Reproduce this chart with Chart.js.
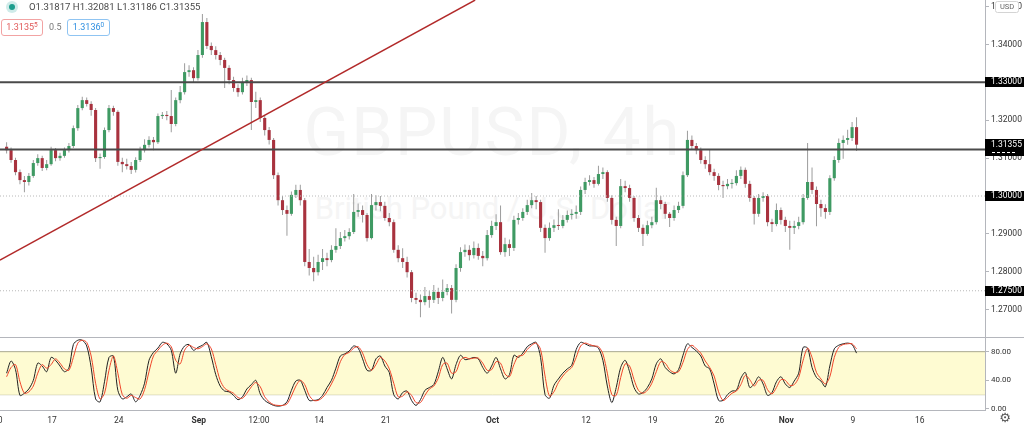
<!DOCTYPE html>
<html>
<head>
<meta charset="utf-8">
<script src="https://cdn.jsdelivr.net/npm/chart.js@4.4.0/dist/chart.umd.min.js"></script>
<style>
  html, body { margin: 0; padding: 0; background: #fff; }
  #wrap { position: relative; width: 1024px; height: 426px; overflow: hidden; font-family: Roboto, "Noto Sans", sans-serif; }
  #priceCanvas { position: absolute; left: 0; top: 0; }
  #stochCanvas { position: absolute; left: 0; top: 337px; }
  .wm { position: absolute; left: 0; width: 985px; text-align: center; color: #f5f5f5; white-space: nowrap; line-height: 1; }
  #wm1 { top: 99px; font-size: 67px; letter-spacing: 2px; }
  #wm2 { top: 193px; font-size: 31px; }
  .lg { position: absolute; white-space: nowrap; }
  #dot { left: 6px; top: 1px; width: 12px; height: 12px; border-radius: 50%; background: rgba(38,166,154,0.22); }
  #dot::after { content: ""; position: absolute; left: 3px; top: 3px; width: 6px; height: 6px; border-radius: 50%; background: #1e9e8e; }
  #ohlc { left: 29px; top: 1px; font-size: 9.6px; line-height: 12px; color: #4a4a4a; }
  .box { top: 19px; height: 15px; line-height: 15px; font-size: 9px; border-radius: 3px; text-align: center; background: #fff; }
  .box sup { font-size: 6.5px; vertical-align: 3px; line-height: 0; }
  #bid { left: 1px; width: 40px; border: 1px solid #f2a3a3; color: #e05a5a; }
  #spread { left: 49px; top: 21px; font-size: 9px; line-height: 12px; color: #777; }
  #ask { left: 67px; width: 41px; border: 1px solid #8fc4f2; color: #2f8fe0; }
</style>
</head>
<body>
<div id="wrap">
  <div class="wm" id="wm1">GBPUSD, 4h</div>
  <div class="wm" id="wm2">British Pound / U.S. Dollar</div>
  <canvas id="priceCanvas" width="1024" height="337"></canvas>
  <canvas id="stochCanvas" width="1024" height="89"></canvas>
  <div class="lg" id="dot"></div>
  <div class="lg" id="ohlc">O1.31817 H1.32081 L1.31186 C1.31355</div>
  <div class="lg box" id="bid">1.3135<sup>5</sup></div>
  <div class="lg" id="spread">0.5</div>
  <div class="lg box" id="ask">1.3136<sup>0</sup></div>
</div>
<script>
// 8-hour candles; open of each bar = previous close
const FIRST_OPEN = 1.3130;
const closes = [
  1.3121, 1.3095, 1.3063, 1.3042, 1.3037, 1.3053, 1.3087, 1.3100, 1.3074, 1.3084,
  1.3121, 1.3100, 1.3106, 1.3121, 1.3132, 1.3179, 1.3232, 1.3253, 1.3243, 1.3227,
  1.3100, 1.3103, 1.3174, 1.3232, 1.3222, 1.3090, 1.3084, 1.3079, 1.3069, 1.3095,
  1.3121, 1.3135, 1.3148, 1.3142, 1.3211, 1.3214, 1.3211, 1.3190, 1.3253, 1.3274,
  1.3327, 1.3332, 1.3311, 1.3372, 1.3459, 1.3396, 1.3385, 1.3372, 1.3359, 1.3338,
  1.3306, 1.3285, 1.3274, 1.3301, 1.3306, 1.3248, 1.3253, 1.3206, 1.3174, 1.3148,
  1.3055, 1.2989, 1.2963, 1.2953, 1.3003, 1.3016, 1.2989, 1.2826, 1.2810, 1.2799,
  1.2826, 1.2836, 1.2831, 1.2858, 1.2868, 1.2889, 1.2894, 1.2905, 1.2958, 1.2963,
  1.2950, 1.2889, 1.2976, 1.2984, 1.2974, 1.2942, 1.2931, 1.2858, 1.2836, 1.2826,
  1.2799, 1.2731, 1.2726, 1.2720, 1.2736, 1.2726, 1.2747, 1.2731, 1.2747, 1.2757,
  1.2726, 1.2810, 1.2852, 1.2858, 1.2844, 1.2863, 1.2842, 1.2836, 1.2897, 1.2921,
  1.2931, 1.2852, 1.2873, 1.2863, 1.2937, 1.2942, 1.2958, 1.2976, 1.2989, 1.2984,
  1.2916, 1.2889, 1.2916, 1.2923, 1.2921, 1.2937, 1.2950, 1.2953, 1.2958, 1.3016,
  1.3037, 1.3042, 1.3032, 1.3058, 1.3063, 1.2995, 1.2937, 1.2921, 1.3026, 1.3021,
  1.2995, 1.2942, 1.2916, 1.2900, 1.2923, 1.2931, 1.2989, 1.2979, 1.2953, 1.2942,
  1.2963, 1.2974, 1.3055, 1.3148, 1.3132, 1.3121, 1.3095, 1.3084, 1.3063, 1.3053,
  1.3029, 1.3026, 1.3032, 1.3034, 1.3053, 1.3069, 1.3032, 1.2995, 1.2953, 1.2995,
  1.3000, 1.2931, 1.2926, 1.2963, 1.2937, 1.2921, 1.2916, 1.2921, 1.2931, 1.2995,
  1.3037, 1.3016, 1.2979, 1.2968, 1.2958, 1.3047, 1.3095, 1.3140, 1.3148, 1.3153,
  1.31817, 1.31355
];
const highs = [
  1.3142, 1.3128, 1.3101, 1.3070, 1.3053, 1.3061, 1.3095, 1.3110, 1.3106, 1.3095,
  1.3130, 1.3127, 1.3114, 1.3128, 1.3140, 1.3186, 1.3240, 1.3262, 1.3260, 1.3250,
  1.3232, 1.3112, 1.3181, 1.3240, 1.3238, 1.3226, 1.3101, 1.3098, 1.3090, 1.3102,
  1.3130, 1.3150, 1.3158, 1.3156, 1.3218, 1.3222, 1.3224, 1.3280, 1.3260, 1.3290,
  1.3350, 1.3345, 1.3340, 1.3385, 1.3480, 1.3470, 1.3405, 1.3395, 1.3380, 1.3365,
  1.3345, 1.3315, 1.3295, 1.3312, 1.3318, 1.3312, 1.3275, 1.3260, 1.3212, 1.3182,
  1.3153, 1.3062, 1.3000, 1.2975, 1.3012, 1.3030, 1.3030, 1.2995, 1.2860, 1.2840,
  1.2845, 1.2860, 1.2850, 1.2870, 1.2915, 1.2905, 1.2910, 1.2915, 1.3005, 1.2980,
  1.2975, 1.2955, 1.3005, 1.3002, 1.3000, 1.2985, 1.2955, 1.2938, 1.2870, 1.2862,
  1.2840, 1.2805, 1.2745, 1.2740, 1.2760, 1.2750, 1.2765, 1.2758, 1.2780, 1.2768,
  1.2765, 1.2820, 1.2865, 1.2872, 1.2870, 1.2880, 1.2875, 1.2855, 1.2910, 1.2935,
  1.2952, 1.2975, 1.2890, 1.2885, 1.2948, 1.2955, 1.2968, 1.2990, 1.3008, 1.3000,
  1.2990, 1.2925, 1.2930, 1.2938, 1.2965, 1.2950, 1.2962, 1.2965, 1.2975, 1.3025,
  1.3048, 1.3055, 1.3050, 1.3080, 1.3075, 1.3068, 1.3002, 1.2945, 1.3045, 1.3040,
  1.3030, 1.3000, 1.2950, 1.2925, 1.2935, 1.2945, 1.3022, 1.3000, 1.2985, 1.2958,
  1.2975, 1.2985, 1.3065, 1.3172, 1.3160, 1.3140, 1.3128, 1.3105, 1.3122, 1.3072,
  1.3060, 1.3040, 1.3045, 1.3045, 1.3068, 1.3078, 1.3075, 1.3040, 1.3000, 1.3005,
  1.3010, 1.3005, 1.2940, 1.2980, 1.2970, 1.2945, 1.2935, 1.2935, 1.2945, 1.3005,
  1.3140, 1.3075, 1.3025, 1.2990, 1.2978, 1.3055, 1.3105, 1.3152, 1.3160, 1.3175,
  1.3195, 1.32081
];
const lows = [
  1.3112, 1.3088, 1.3055, 1.3031, 1.3010, 1.3028, 1.3048, 1.3080, 1.3066, 1.3068,
  1.3080, 1.3092, 1.3093, 1.3101, 1.3115, 1.3127, 1.3172, 1.3226, 1.3236, 1.3212,
  1.3090, 1.3072, 1.3098, 1.3168, 1.3212, 1.3080, 1.3063, 1.3070, 1.3058, 1.3062,
  1.3090, 1.3115, 1.3128, 1.3121, 1.3137, 1.3203, 1.3200, 1.3168, 1.3184, 1.3245,
  1.3268, 1.3315, 1.3298, 1.3305, 1.3365, 1.3388, 1.3372, 1.3360, 1.3345, 1.3285,
  1.3295, 1.3275, 1.3262, 1.3268, 1.3290, 1.3174, 1.3232, 1.3195, 1.3160, 1.3136,
  1.3045, 1.2975, 1.2950, 1.2895, 1.2948, 1.2995, 1.2975, 1.2815, 1.2790, 1.2775,
  1.2790, 1.2805, 1.2815, 1.2825, 1.2850, 1.2860, 1.2880, 1.2885, 1.2900, 1.2945,
  1.2930, 1.2880, 1.2885, 1.2962, 1.2960, 1.2935, 1.2920, 1.2850, 1.2825, 1.2810,
  1.2785, 1.2720, 1.2715, 1.2680, 1.2712, 1.2705, 1.2718, 1.2715, 1.2722, 1.2738,
  1.2690, 1.2720, 1.2800, 1.2840, 1.2830, 1.2835, 1.2832, 1.2815, 1.2830, 1.2890,
  1.2910, 1.2845, 1.2840, 1.2842, 1.2855, 1.2925, 1.2935, 1.2950, 1.2968, 1.2965,
  1.2905, 1.2850, 1.2882, 1.2905, 1.2910, 1.2915, 1.2930, 1.2938, 1.2940, 1.2950,
  1.3005, 1.3028, 1.3022, 1.3028, 1.3045, 1.2985, 1.2925, 1.2868, 1.2915, 1.3010,
  1.2985, 1.2932, 1.2905, 1.2868, 1.2895, 1.2915, 1.2925, 1.2965, 1.2940, 1.2918,
  1.2935, 1.2955, 1.2968, 1.3050, 1.3122, 1.3110, 1.3085, 1.3072, 1.3055, 1.3040,
  1.3015, 1.2995, 1.3018, 1.3020, 1.3028, 1.3045, 1.3022, 1.2985, 1.2925, 1.2945,
  1.2985, 1.2920, 1.2905, 1.2920, 1.2925, 1.2905, 1.2858, 1.2900, 1.2912, 1.2925,
  1.2990, 1.3005, 1.2920, 1.2945, 1.2940, 1.2950, 1.3040, 1.3088, 1.3098, 1.3135,
  1.3145, 1.31186
];
// stochastic %K (black) and %D (red)
const stochK = [
  50, 67, 55, 19, 22, 28, 40, 64, 60, 52,
  72, 68, 60, 52, 57, 90, 96, 96, 88, 58,
  14, 10, 38, 72, 74, 26, 14, 17, 21, 10,
  19, 36, 68, 79, 85, 93, 91, 82, 50, 77,
  88, 90, 82, 86, 89, 93, 73, 48, 32, 25,
  24, 19, 13, 17, 28, 34, 40, 21, 12, 8,
  5, 4, 5, 10, 26, 39, 40, 26, 12, 12,
  13, 19, 30, 40, 57, 74, 77, 81, 88, 85,
  70, 54, 54, 70, 74, 60, 51, 20, 14, 23,
  25, 12, 5, 13, 26, 30, 34, 52, 72, 56,
  42, 62, 75, 69, 70, 72, 70, 58, 50, 60,
  72, 56, 42, 48, 75, 72, 78, 87, 91, 93,
  72, 20, 15, 33, 42, 50, 56, 61, 83, 93,
  91, 88, 88, 85, 68, 32, 9, 30, 58, 68,
  52, 30, 21, 23, 30, 42, 63, 70, 58, 52,
  49, 55, 75, 91, 86, 81, 74, 60, 56, 35,
  12, 12, 20, 25, 26, 43, 51, 30, 35, 45,
  35, 19, 23, 38, 45, 35, 30, 39, 50, 86,
  85, 58, 44, 39, 31, 60, 84, 89, 91, 92,
  90, 78
];
const stochD = [
  45, 58, 62, 38, 22, 24, 32, 50, 62, 57,
  62, 70, 64, 56, 54, 72, 92, 96, 93, 74,
  36, 14, 22, 54, 74, 50, 20, 15, 19, 16,
  14, 27, 52, 74, 82, 89, 92, 87, 68, 63,
  82, 89, 86, 84, 87, 91, 84, 62, 40, 29,
  25, 22, 16, 15, 22, 31, 37, 31, 17, 10,
  6, 5, 5, 7, 18, 32, 40, 34, 19, 12,
  12, 16, 24, 35, 48, 66, 76, 79, 85, 87,
  78, 62, 54, 62, 72, 67, 56, 36, 17, 18,
  24, 19, 9, 9, 19, 28, 32, 43, 62, 64,
  50, 52, 68, 72, 70, 71, 71, 64, 54, 55,
  66, 64, 49, 45, 62, 74, 75, 83, 89, 92,
  83, 46, 18, 24, 37, 46, 53, 58, 72, 88,
  92, 90, 88, 87, 77, 50, 20, 19, 44, 63,
  60, 41, 26, 22, 26, 36, 52, 66, 64, 55,
  51, 52, 65, 83, 89, 84, 78, 67, 58, 46,
  24, 12, 16, 22, 25, 34, 47, 41, 32, 40,
  40, 27, 21, 30, 41, 40, 33, 34, 44, 68,
  85, 72, 51, 42, 35, 45, 72, 86, 90, 91,
  91, 84
];

// x is counted in trading days from Mon 10 Aug
const START_DAY = 1.6;
const CANDLE_STEP = 1 / 3;
const xTickDays = [0.5, 5, 10, 16, 20.5, 25, 30, 38, 45, 50, 55, 60, 65, 70];
const xTickLabels = ['12:00', '17', '24', 'Sep', '12:00', '14', '21', 'Oct', '12', '19', '26', 'Nov', '9', '16'];
const monthLabels = ['Sep', 'Oct', 'Nov'];
const priceTicks = [1.27, 1.28, 1.29, 1.30, 1.31, 1.32, 1.33, 1.34, 1.35];
const stochTicks = [0, 40, 80];
const solidLevels = [1.33, 1.3123];
const dottedLevels = [1.30, 1.275];
const tagLevels = [1.33, 1.30, 1.275];
const trendDays = [1.1, 36.7];
const trendPrices = [1.2831, 1.3517];
const bandLevels = [80, 20];

const XMIN = 1.105, XMAX = 74.89;
const PRICE_MIN = 1.2628, PRICE_MAX = 1.35172;
const FONT = 'Roboto, "Noto Sans", sans-serif';
const AXIS = '#b4b6bc';
const UP = '#3f9a63', DOWN = '#a8323e', WICK = '#9c9c9c';

Chart.defaults.font.family = FONT;
Chart.defaults.animation = false;

const days = closes.map((_, k) => START_DAY + k * CANDLE_STEP);
const opens = closes.map((c, k) => k === 0 ? FIRST_OPEN : closes[k - 1]);
const bodyColors = closes.map((c, k) => c >= opens[k] ? UP : DOWN);
const lastPrice = closes[closes.length - 1];

function hline(v, color, width, dash) {
    return {
        type: 'line',
        data: [{ x: XMIN, y: v }, { x: XMAX, y: v }],
        borderColor: color,
        borderWidth: width,
        borderDash: dash || [],
        pointRadius: 0
    };
}

function noPad(s) {
    s.paddingLeft = 0;
    s.paddingRight = 0;
    s.paddingTop = 0;
    s.paddingBottom = 0;
}

const priceTags = {
    id: 'priceTags',
    afterDraw(chart) {
        const { ctx, scales: { y } } = chart;
        const w = chart.width - y.left;
        ctx.save();
        ctx.font = '8.5px ' + FONT;
        ctx.textBaseline = 'middle';
        tagLevels.forEach(v => {
            const py = Math.round(y.getPixelForValue(v));
            ctx.fillStyle = '#000';
            ctx.fillRect(y.left, py - 5, w, 10);
            ctx.fillStyle = '#fff';
            ctx.fillText(v.toFixed(5), y.left + 6, py);
        });
        // last price tag with the bar countdown row underneath
        const lp = Math.round(y.getPixelForValue(lastPrice));
        ctx.fillStyle = '#000';
        ctx.fillRect(y.left, lp - 6, w, 17);
        ctx.fillStyle = '#fff';
        ctx.fillText(lastPrice.toFixed(5), y.left + 6, lp);
        for (let i = 0; i < 5; i++) ctx.fillRect(y.left + 7 + i * 5, lp + 7, 3, 1);
        // currency button over the top label
        ctx.fillStyle = '#fff';
        ctx.strokeStyle = '#d4d4d4';
        ctx.beginPath();
        ctx.roundRect(995.5, 1.5, 23, 11, 2);
        ctx.fill();
        ctx.stroke();
        ctx.fillStyle = '#666';
        ctx.font = '7.5px ' + FONT;
        ctx.textAlign = 'center';
        ctx.fillText('USD', 1007, 7.5);
        ctx.restore();
    }
};

new Chart(document.getElementById('priceCanvas'), {
    type: 'bar',
    data: {
        datasets: [
            {
                type: 'line',
                data: trendDays.map((d, i) => ({ x: d, y: trendPrices[i] })),
                borderColor: '#b22a2a',
                borderWidth: 1.5,
                pointRadius: 0
            },
            ...solidLevels.map(v => hline(v, '#4a4a4a', 2)),
            ...dottedLevels.map(v => hline(v, '#b8b8b8', 1, [1, 2])),
            {
                data: days.map((d, k) => ({ x: d, y: [opens[k], closes[k]] })),
                backgroundColor: bodyColors,
                grouped: false,
                barPercentage: 0.7,
                categoryPercentage: 1,
                minBarLength: 1
            },
            {
                data: days.map((d, k) => ({ x: d, y: [lows[k], highs[k]] })),
                backgroundColor: WICK,
                grouped: false,
                maxBarThickness: 1
            }
        ]
    },
    options: {
        responsive: false,
        layout: { padding: 0 },
        plugins: { legend: { display: false }, tooltip: { enabled: false } },
        scales: {
            x: {
                type: 'linear', min: XMIN, max: XMAX, offset: false, display: false,
                grid: { offset: false }
            },
            y: {
                position: 'right',
                min: PRICE_MIN,
                max: PRICE_MAX,
                afterBuildTicks: s => { s.ticks = priceTicks.map(v => ({ value: v })); },
                afterFit: s => { s.width = 39; noPad(s); },
                grid: { drawOnChartArea: false, drawTicks: true, tickLength: 4, color: AXIS },
                border: { color: AXIS },
                ticks: { padding: 2, color: '#333', font: { size: 8.5 }, callback: v => Number(v).toFixed(5) }
            }
        }
    },
    plugins: [priceTags]
});

const stochExtras = {
    id: 'stochExtras',
    afterDraw(chart) {
        const { ctx } = chart;
        ctx.save();
        ctx.fillStyle = AXIS;
        ctx.fillRect(0, 0, chart.width, 1);
        ctx.fillStyle = '#555';
        ctx.font = '13px "DejaVu Sans"';
        ctx.textAlign = 'center';
        ctx.textBaseline = 'middle';
        ctx.fillText('\u2699', 1005, 82);
        ctx.restore();
    }
};

new Chart(document.getElementById('stochCanvas'), {
    type: 'line',
    data: {
        datasets: [
            {
                data: days.map((d, k) => ({ x: d, y: stochD[k] })),
                borderColor: '#f0452a', borderWidth: 1, pointRadius: 0, tension: 0.3
            },
            {
                data: days.map((d, k) => ({ x: d, y: stochK[k] })),
                borderColor: '#222', borderWidth: 1, pointRadius: 0, tension: 0.3
            },
            {
                data: [{ x: XMIN, y: bandLevels[0] }, { x: XMAX, y: bandLevels[0] }],
                borderColor: '#a9a98f', borderWidth: 1, pointRadius: 0,
                fill: '+1', backgroundColor: '#fefbd2'
            },
            {
                data: [{ x: XMIN, y: bandLevels[1] }, { x: XMAX, y: bandLevels[1] }],
                borderColor: '#a9a98f', borderWidth: 1, pointRadius: 0
            }
        ]
    },
    options: {
        responsive: false,
        layout: { padding: 0 },
        plugins: { legend: { display: false }, tooltip: { enabled: false } },
        scales: {
            x: {
                type: 'linear', min: XMIN, max: XMAX, offset: false,
                afterBuildTicks: s => { s.ticks = xTickDays.map(v => ({ value: v })); },
                afterFit: s => { s.height = 16; noPad(s); },
                grid: { drawOnChartArea: false, drawTicks: false },
                border: { color: AXIS },
                ticks: {
                    autoSkip: false, maxRotation: 0, padding: 6, color: '#333',
                    font: c => ({ size: 8.5, weight: monthLabels.includes(xTickLabels[c.index]) ? 'bold' : 'normal' }),
                    callback: (v, i) => xTickLabels[i]
                }
            },
            y: {
                position: 'right',
                min: -1.4,
                max: 100.5,
                afterBuildTicks: s => { s.ticks = stochTicks.map(v => ({ value: v })); },
                afterFit: s => { s.width = 39; noPad(s); },
                grid: { drawOnChartArea: false, drawTicks: true, tickLength: 4, color: AXIS },
                border: { color: AXIS },
                ticks: { padding: 2, color: '#333', font: { size: 8 }, callback: v => Number(v).toFixed(2) }
            }
        }
    },
    plugins: [stochExtras]
});
</script>
</body>
</html>
